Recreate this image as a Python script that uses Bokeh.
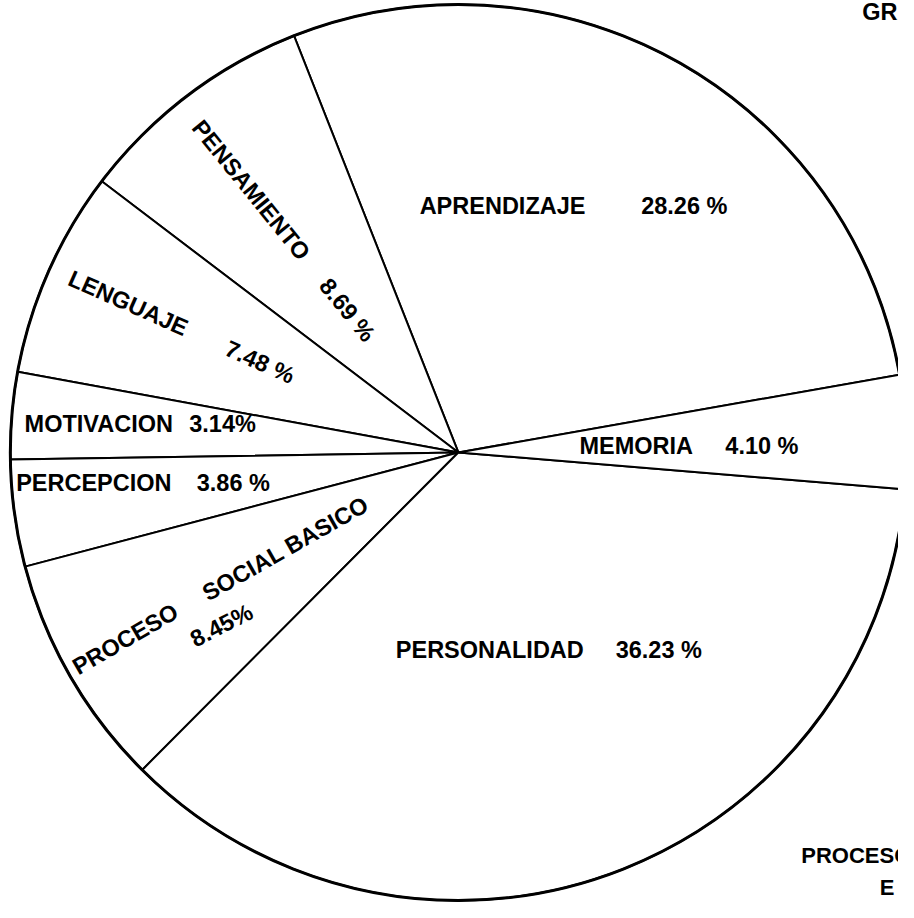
import math
from bokeh.plotting import figure
from bokeh.models import Range1d, ColumnDataSource
from bokeh.core.properties import value
from bokeh.embed import file_html
from bokeh.resources import INLINE

# ---- data, counter-clockwise from the MEMORIA/APRENDIZAJE edge
categories = ["APRENDIZAJE", "PENSAMIENTO", "LENGUAJE", "MOTIVACION",
              "PERCEPCION", "PROCESO SOCIAL BASICO", "PERSONALIDAD", "MEMORIA"]
percentages = [28.26, 8.69, 7.48, 3.14, 3.86, 8.45, 36.23, 4.10]
pct_labels = ["28.26 %", "8.69 %", "7.48 %", "3.14%", "3.86 %", "8.45%", "36.23 %", "4.10 %"]
title_fragment = "GRAFICA"
footer_lines = ["PROCESOS", "E"]

# ---- layout / style
W, H = 898, 902
REF_W, REF_H = 914, 918
def py(y):  # reference pixel y -> data y (y up)
    return REF_H - y

CX, CY, R = 466, py(460), 456
START_DEG = 10.0
FONT = "Liberation Sans"
FS = "23.5px"

p = figure(width=W, height=H, output_backend="svg", toolbar_location=None,
           x_range=Range1d(0, REF_W), y_range=Range1d(0, REF_H), min_border=0)
p.axis.visible = False
p.grid.visible = False
p.outline_line_color = None
p.background_fill_color = "white"
p.border_fill_color = "white"

total = sum(percentages)
starts, ends = [], []
acc = START_DEG
for v in percentages:
    a0 = acc
    acc += v / total * 360.0
    starts.append(math.radians(a0))
    ends.append(math.radians(acc))

src = ColumnDataSource(dict(cat=categories, start=starts, end=ends))
p.wedge(x=CX, y=CY, radius=R, start_angle="start", end_angle="end", source=src,
        fill_color="white", line_color="black", line_width=2)
p.circle(x=[CX], y=[CY], radius=R, fill_color=None, line_color="black", line_width=3)

# label placement (reference coords of text centre, rotation in degrees)
name_layout = {
    "APRENDIZAJE": (511, 209, 0),
    "PENSAMIENTO": (255, 193, -51),
    "LENGUAJE": (130, 308, -24),
    "MOTIVACION": (100, 431, 0),
    "PERCEPCION": (95, 491, 0),
    "PERSONALIDAD": (498, 661, 0),
    "MEMORIA": (647, 453, 0),
}
pct_layout = {
    "APRENDIZAJE": (696, 209, 0),
    "PENSAMIENTO": (353, 315, -51),
    "LENGUAJE": (264, 368, -24),
    "MOTIVACION": (226, 431, 0),
    "PERCEPCION": (237, 491, 0),
    "PROCESO SOCIAL BASICO": (225, 636, 27),
    "PERSONALIDAD": (670, 661, 0),
    "MEMORIA": (775, 453, 0),
}
split_layout = {"PROCESO SOCIAL BASICO": [("PROCESO", (127, 650, 30)),
                                          ("SOCIAL BASICO", (290, 558, 29.6))]}

tx, ty, tt, ta = [], [], [], []
for cat, pl in zip(categories, pct_labels):
    if cat in split_layout:
        for word, (x, y, a) in split_layout[cat]:
            tx.append(x); ty.append(py(y)); tt.append(word); ta.append(math.radians(a))
    else:
        x, y, a = name_layout[cat]
        tx.append(x); ty.append(py(y)); tt.append(cat); ta.append(math.radians(a))
    x, y, a = pct_layout[cat]
    tx.append(x); ty.append(py(y)); tt.append(pl); ta.append(math.radians(a))

tsrc = ColumnDataSource(dict(x=tx, y=ty, text=tt, angle=ta))
p.text(x="x", y="y", text="text", angle="angle", source=tsrc,
       text_font=value(FONT), text_font_style="bold", text_font_size=FS,
       text_align="center", text_baseline="middle", text_color="black")

# fragments cut off at the page edges (as in the reference)
p.text(x=[877], y=[py(12)], text=[title_fragment], text_font=value(FONT),
       text_font_style="bold", text_font_size=FS, text_align="left",
       text_baseline="alphabetic", text_color="black")
p.text(x=[815, 895], y=[py(870), py(903)], text=footer_lines, text_font=value(FONT),
       text_font_style="bold", text_font_size="22px", text_align="left",
       text_baseline="middle", text_color="black")

open("out.html", "w").write(file_html(p, INLINE))
